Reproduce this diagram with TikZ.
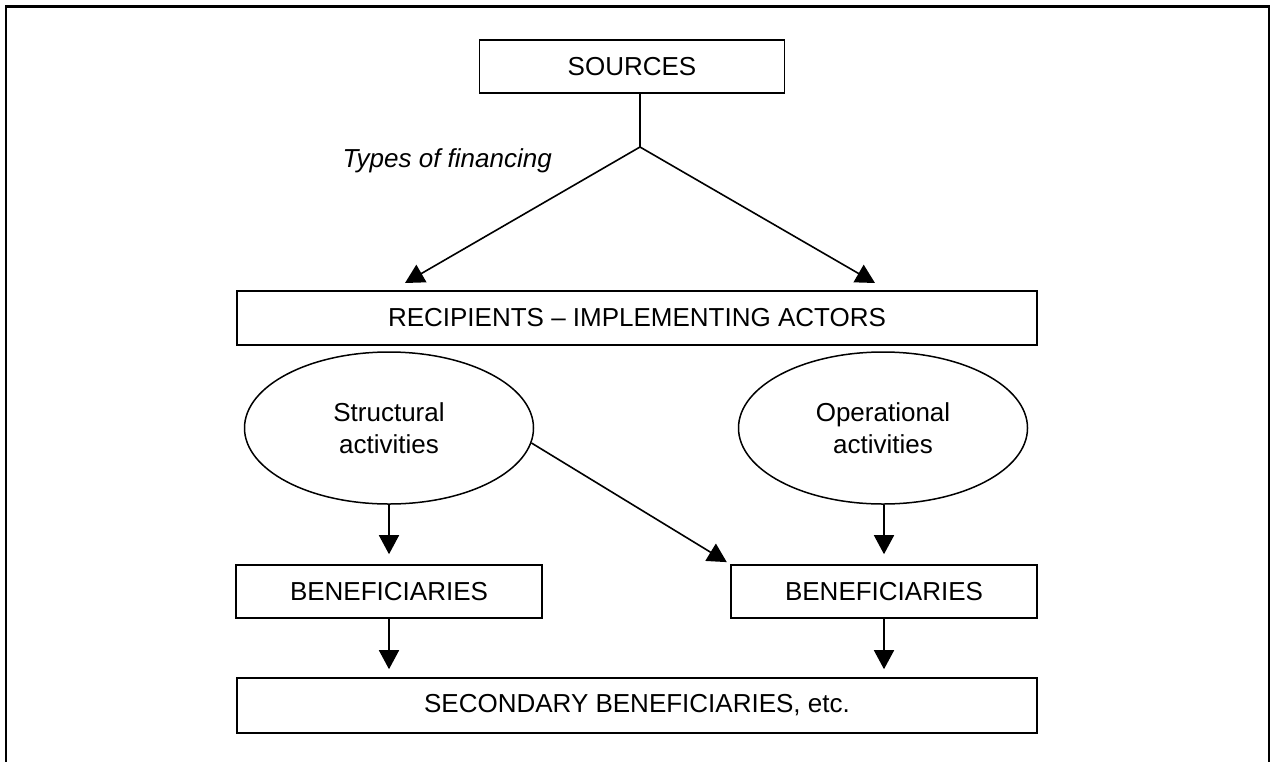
\documentclass[tikz,border=0pt]{standalone}
\usepackage{fontspec}
\setmainfont{Liberation Sans}
\usetikzlibrary{shapes.geometric,arrows.meta}
\tikzset{
  box/.style={draw, line width=1.6pt, rectangle, inner sep=0pt, font=\fontsize{26}{32}\selectfont},
  oval/.style={draw, line width=1.5pt, ellipse, inner sep=0pt, minimum width=289pt, minimum height=152pt, align=center, font=\fontsize{26}{32}\selectfont},
  arr/.style={line width=1.6pt, -{Triangle[length=19pt,width=20pt]}},
  plain/.style={line width=1.6pt},
  frame/.style={line width=2.5pt}
}
\begin{document}
\begin{tikzpicture}[x=1pt,y=-1pt]
\useasboundingbox (0,0) rectangle (1271,761);
\draw[frame] (6,762) -- (6,6.5) -- (1269,6.5) -- (1269,762);

\node[box, minimum width=305pt, minimum height=53pt] (src) at (632,66.5) {SOURCES};
\node[box, minimum width=800pt, minimum height=54pt] (rec) at (637,318) {RECIPIENTS -- IMPLEMENTING ACTORS};
\node[oval] (e1) at (389,428) {Structural\\activities};
\node[oval] (e2) at (883,428) {Operational\\activities};
\node[box, minimum width=306pt, minimum height=53pt] (b1) at (389,591.5) {BENEFICIARIES};
\node[box, minimum width=306pt, minimum height=53pt] (b2) at (884,591.5) {BENEFICIARIES};
\node[box, minimum width=800pt, minimum height=55pt] (sec) at (637,705.5) {SECONDARY BENEFICIARIES, etc.};

\node[anchor=base east, inner sep=0pt, font=\fontsize{26}{32}\selectfont\itshape] (tof) at (552,167) {Types of financing};

\coordinate (j) at (640,147);
\coordinate (tl) at (405,283);
\coordinate (tr) at (875,283);

\draw[plain] (j |- src.south) -- (j);
\draw[arr] (j) -- (tl);
\draw[arr] (j) -- (tr);

\draw[arr, shorten >=10pt] (e1.south) -- (b1.north);
\draw[arr, shorten >=10pt] (e2.south -| b2.north) -- (b2.north);
\draw[arr, shorten >=4pt] (e1.-6) -- (b2.north west);
\draw[arr, shorten >=8pt] (b1.south) -- (b1.south |- sec.north);
\draw[arr, shorten >=8pt] (b2.south) -- (b2.south |- sec.north);
\end{tikzpicture}
\end{document}
